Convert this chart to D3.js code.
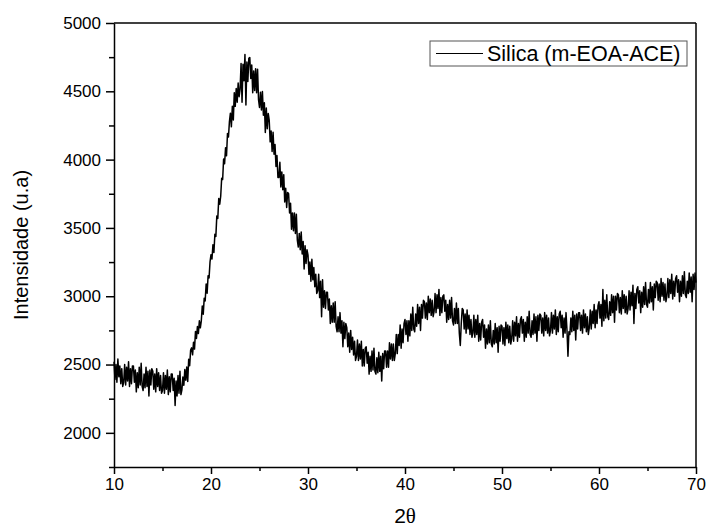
<!DOCTYPE html>
<html>
<head>
<meta charset="utf-8">
<script src="https://cdn.jsdelivr.net/npm/d3@7"></script>
<style>
  body { margin: 0; background: #fff; }
  svg { display: block; }
  .tick text { font-family: "Liberation Sans", Arial, sans-serif; font-size: 17px; fill: #000; }
</style>
</head>
<body>
<svg id="chart"></svg>
<script>
// XRD pattern, one value every 0.1 deg from 10 to 70
const twoThetaStart = 10, twoThetaStep = 0.1;
const intensity = [
  2520, 2390, 2500, 2370, 2540, 2410, 2490, 2360, 2470, 2340, // 10
  2370, 2500, 2350, 2480, 2380, 2520, 2340, 2470, 2360, 2490, // 11
  2490, 2370, 2460, 2300, 2440, 2330, 2480, 2350, 2510, 2340, // 12
  2310, 2430, 2330, 2480, 2340, 2450, 2270, 2460, 2350, 2470, // 13
  2450, 2320, 2430, 2300, 2470, 2340, 2440, 2310, 2420, 2290, // 14
  2310, 2440, 2290, 2420, 2320, 2460, 2280, 2410, 2300, 2430, // 15
  2430, 2310, 2400, 2200, 2380, 2270, 2420, 2290, 2450, 2280, // 16
  2314, 2408, 2348, 2463, 2385, 2482, 2376, 2539, 2492, 2606, // 17
  2622, 2571, 2664, 2613, 2742, 2691, 2778, 2727, 2820, 2769, // 18
  2820, 2928, 2868, 2986, 2966, 3090, 3022, 3150, 3134, 3252, // 19
  3304, 3272, 3376, 3320, 3454, 3438, 3588, 3570, 3716, 3674, // 20
  3732, 3864, 3854, 4004, 3970, 4086, 4028, 4192, 4166, 4278, // 21
  4340, 4240, 4390, 4290, 4490, 4390, 4520, 4420, 4560, 4460, // 22
  4515, 4704, 4420, 4698, 4578, 4770, 4400, 4715, 4572, 4741, // 23
  4748, 4594, 4692, 4490, 4648, 4506, 4666, 4490, 4662, 4438, // 24
  4382, 4494, 4364, 4499, 4325, 4416, 4198, 4377, 4226, 4338, // 25
  4290, 4130, 4210, 4060, 4200, 4040, 4110, 3950, 4030, 3870, // 26
  3870, 3980, 3800, 3910, 3780, 3890, 3690, 3790, 3650, 3760, // 27
  3750, 3610, 3680, 3490, 3610, 3480, 3610, 3460, 3600, 3410, // 28
  3360, 3460, 3340, 3470, 3310, 3400, 3200, 3370, 3240, 3340, // 29
  3300, 3160, 3250, 3110, 3270, 3120, 3210, 3070, 3160, 3020, // 30
  3040, 3160, 2990, 3110, 2850, 3120, 2920, 3040, 2910, 3030, // 31
  3030, 2900, 2980, 2800, 2930, 2810, 2950, 2810, 2960, 2780, // 32
  2740, 2850, 2740, 2880, 2730, 2820, 2630, 2810, 2690, 2800, // 33
  2770, 2630, 2730, 2590, 2750, 2610, 2700, 2570, 2670, 2530, // 34
  2560, 2680, 2530, 2650, 2540, 2670, 2490, 2610, 2490, 2620, // 35
  2630, 2510, 2590, 2430, 2560, 2450, 2600, 2460, 2620, 2450, // 36
  2430, 2550, 2440, 2590, 2450, 2560, 2380, 2580, 2470, 2600, // 37
  2600, 2480, 2600, 2480, 2660, 2540, 2650, 2530, 2650, 2530, // 38
  2580, 2720, 2580, 2720, 2640, 2790, 2620, 2760, 2660, 2800, // 39
  2830, 2720, 2820, 2670, 2820, 2710, 2870, 2750, 2920, 2760, // 40
  2740, 2870, 2780, 2940, 2800, 2920, 2750, 2940, 2840, 2970, // 41
  2960, 2840, 2950, 2830, 3000, 2880, 2980, 2860, 2970, 2850, // 42
  2890, 3020, 2880, 3010, 2910, 3050, 2860, 2990, 2880, 3000, // 43
  3010, 2890, 2970, 2810, 2940, 2830, 2970, 2840, 2990, 2820, // 44
  2790, 2910, 2800, 2950, 2800, 2910, 2730, 2640, 2800, 2910, // 45
  2900, 2760, 2870, 2730, 2900, 2760, 2860, 2720, 2830, 2700, // 46
  2730, 2860, 2700, 2830, 2720, 2860, 2670, 2800, 2680, 2810, // 47
  2830, 2700, 2790, 2620, 2760, 2650, 2790, 2660, 2820, 2650, // 48
  2630, 2750, 2650, 2800, 2660, 2770, 2590, 2780, 2670, 2790, // 49
  2780, 2650, 2770, 2640, 2810, 2690, 2790, 2660, 2780, 2650, // 50
  2690, 2820, 2670, 2810, 2710, 2850, 2670, 2800, 2700, 2830, // 51
  2850, 2730, 2830, 2670, 2810, 2700, 2850, 2730, 2890, 2720, // 52
  2700, 2820, 2720, 2870, 2730, 2850, 2670, 2860, 2750, 2870, // 53
  2860, 2730, 2840, 2710, 2880, 2750, 2860, 2730, 2840, 2710, // 54
  2750, 2880, 2730, 2860, 2760, 2900, 2720, 2850, 2740, 2870, // 55
  2890, 2770, 2860, 2700, 2840, 2730, 2880, 2750, 2560, 2740, // 56
  2720, 2840, 2740, 2890, 2750, 2860, 2680, 2870, 2760, 2880, // 57
  2880, 2750, 2860, 2730, 2900, 2770, 2870, 2740, 2850, 2720, // 58
  2770, 2900, 2760, 2890, 2800, 2940, 2770, 2900, 2800, 2930, // 59
  2960, 2840, 2940, 2780, 3050, 2820, 2970, 2840, 3010, 2850, // 60
  2830, 2960, 2860, 3010, 2880, 3000, 2810, 3000, 2900, 3020, // 61
  3010, 2880, 2990, 2870, 3040, 2910, 3010, 2880, 3000, 2870, // 62
  2910, 3040, 2900, 3030, 2930, 3080, 2800, 3020, 2910, 3050, // 63
  3070, 2950, 3040, 2880, 3030, 2920, 3070, 2940, 3100, 2940, // 64
  2920, 3050, 2950, 3100, 2960, 3070, 2900, 3090, 2990, 3110, // 65
  3100, 2970, 3090, 2960, 3130, 3000, 3100, 2970, 3090, 2960, // 66
  3000, 3130, 2990, 3120, 3020, 3160, 2980, 3110, 3000, 3130, // 67
  3150, 3030, 3120, 2960, 3110, 3000, 3150, 3020, 3180, 3010, // 68
  2990, 3110, 3020, 3170, 3030, 3140, 2960, 3160, 3050, 3170, // 69
  3100                                                        // 70
];

const xMajorTicks = [10, 20, 30, 40, 50, 60, 70];
const xMinorTicks = [15, 25, 35, 45, 55, 65];
const yMajorTicks = [2000, 2500, 3000, 3500, 4000, 4500, 5000];
const yMinorTicks = [1750, 2250, 2750, 3250, 3750, 4250, 4750];
const seriesName = "Silica (m-EOA-ACE)";

const data = intensity.map((v, i) => ({ t: twoThetaStart + i * twoThetaStep, v: v }));

const width = 706, height = 531;
const margin = {top: 23, right: 10, bottom: 64, left: 114};

const svg = d3.select("#chart")
    .attr("width", width)
    .attr("height", height);

const x = d3.scaleLinear()
    .domain([10, 70])
    .range([margin.left, width - margin.right]);

const y = d3.scaleLinear()
    .domain([1750, 5000])
    .range([height - margin.bottom, margin.top]);

// the noisy curve
const line = d3.line()
    .x(d => x(d.t))
    .y(d => y(d.v));

svg.append("path")
    .datum(data)
    .attr("fill", "none")
    .attr("stroke", "#000")
    .attr("stroke-width", 1.5)
    .attr("stroke-linejoin", "round")
    .attr("d", line);

// frame: top and right edges
svg.append("line")
    .attr("x1", x(10)).attr("x2", x(70))
    .attr("y1", y(5000)).attr("y2", y(5000))
    .attr("stroke", "#000").attr("stroke-width", 1.5);
svg.append("line")
    .attr("x1", x(70)).attr("x2", x(70))
    .attr("y1", y(5000)).attr("y2", y(1750))
    .attr("stroke", "#000").attr("stroke-width", 1.5);

// axes
svg.append("g")
    .attr("transform", `translate(0,${y(1750)})`)
    .call(d3.axisBottom(x).tickValues(xMajorTicks).tickSize(7).tickSizeOuter(0).tickPadding(4));
svg.append("g")
    .attr("transform", `translate(0,${y(1750)})`)
    .call(d3.axisBottom(x).tickValues(xMinorTicks).tickSize(4).tickSizeOuter(0).tickFormat(""))
    .select(".domain").remove();

svg.append("g")
    .attr("transform", `translate(${x(10)},0)`)
    .call(d3.axisLeft(y).tickValues(yMajorTicks).tickFormat(d3.format("d"))
        .tickSize(8).tickSizeOuter(0).tickPadding(5));
svg.append("g")
    .attr("transform", `translate(${x(10)},0)`)
    .call(d3.axisLeft(y).tickValues(yMinorTicks).tickSize(5).tickSizeOuter(0).tickFormat(""))
    .select(".domain").remove();

svg.selectAll(".domain, .tick line").attr("stroke", "#000").attr("stroke-width", 1.5);

// axis titles
svg.append("text")
    .attr("transform", `translate(28,${(y(5000) + y(1750)) / 2}) rotate(-90)`)
    .attr("text-anchor", "middle")
    .style("font-family", "Liberation Sans, Arial, sans-serif")
    .style("font-size", "20px")
    .text("Intensidade (u.a)");

const xTitle = svg.append("text")
    .attr("x", (x(10) + x(70)) / 2)
    .attr("y", 523)
    .attr("text-anchor", "middle")
    .style("font-family", "Liberation Sans, Arial, sans-serif")
    .style("font-size", "21px");
xTitle.append("tspan").text("2");
xTitle.append("tspan").style("font-family", "Liberation Serif, serif").text("θ");

// legend
const legend = svg.append("g").attr("transform", "translate(430,41)");
legend.append("rect")
    .attr("width", 257).attr("height", 25)
    .attr("fill", "#fff").attr("stroke", "#555").attr("stroke-width", 1);
legend.append("line")
    .attr("x1", 6).attr("x2", 53).attr("y1", 12.5).attr("y2", 12.5)
    .attr("stroke", "#000").attr("stroke-width", 1);
legend.append("text")
    .attr("x", 57).attr("y", 20)
    .style("font-family", "Liberation Sans, Arial, sans-serif")
    .style("font-size", "21.5px")
    .text(seriesName);
</script>
</body>
</html>
